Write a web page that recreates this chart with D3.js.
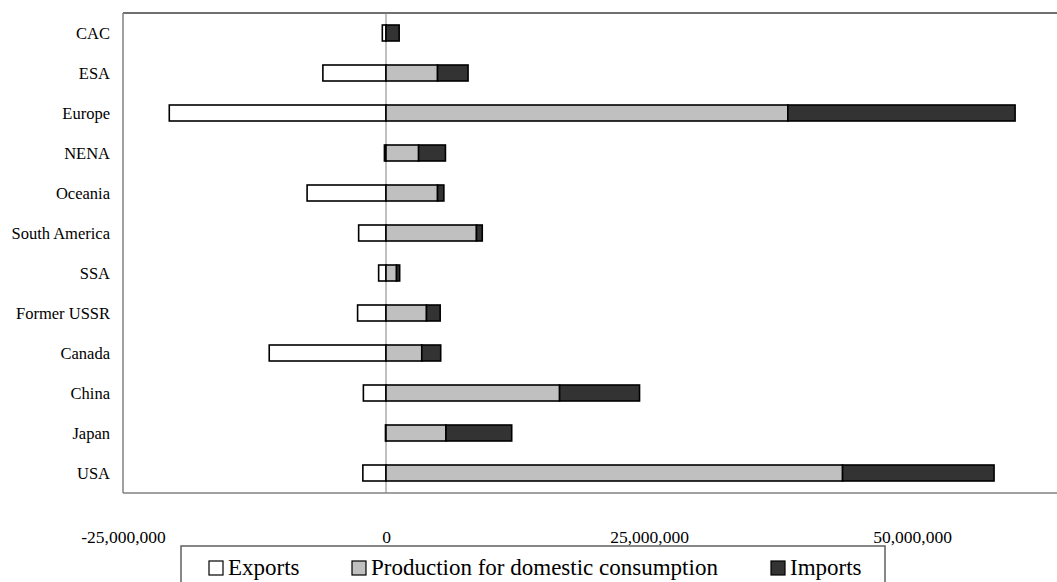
<!DOCTYPE html>
<html>
<head>
<meta charset="utf-8">
<script src="https://cdn.jsdelivr.net/npm/d3@7"></script>
<style>
  html, body { margin: 0; padding: 0; background: #fff; }
  svg { display: block; }
</style>
</head>
<body>
<svg id="chart" width="1057" height="582"></svg>
<script>
// Regions, top to bottom
const regions = ["CAC", "ESA", "Europe", "NENA", "Oceania", "South America", "SSA",
                 "Former USSR", "Canada", "China", "Japan", "USA"];

// Volumes (tonnes); exports are shown to the left of zero
const exportsVals    = [-350000, -6000000, -20600000, -150000, -7500000, -2600000, -700000,
                        -2700000, -11100000, -2150000, -50000, -2200000];
const productionVals = [0, 4900000, 38200000, 3100000, 4900000, 8600000, 1000000,
                        3850000, 3400000, 16500000, 5700000, 43400000];
const importsVals    = [1250000, 2900000, 21600000, 2550000, 600000, 550000, 300000,
                        1300000, 1800000, 7600000, 6250000, 14400000];

const tickValues = [-25000000, 0, 25000000, 50000000];
const seriesNames = ["Exports", "Production for domestic consumption", "Imports"];
const seriesColors = ["#ffffff", "#c0c0c0", "#333333"];

const FONT = "'Liberation Serif', 'Times New Roman', 'DejaVu Serif', serif";

const svg = d3.select("#chart");

const plot = { left: 123, top: 13, bottom: 493, right: 1175 };

const x = d3.scaleLinear()
  .domain([-25000000, 75000000])
  .range([plot.left, plot.right]);

const y = d3.scaleBand()
  .domain(regions)
  .range([plot.top, plot.bottom])
  .paddingInner(0.6)
  .paddingOuter(0.3);

// Plot frame
svg.append("line")
  .attr("x1", plot.left).attr("x2", plot.right)
  .attr("y1", plot.top).attr("y2", plot.top)
  .attr("stroke", "#404040").attr("stroke-width", 1.6);
svg.append("line")
  .attr("x1", plot.left).attr("x2", plot.left)
  .attr("y1", plot.top).attr("y2", plot.bottom)
  .attr("stroke", "#808080").attr("stroke-width", 1.5);
svg.append("line")
  .attr("x1", plot.left).attr("x2", plot.right)
  .attr("y1", plot.bottom).attr("y2", plot.bottom)
  .attr("stroke", "#808080").attr("stroke-width", 1.5);

// Zero line
svg.append("line")
  .attr("x1", x(0)).attr("x2", x(0))
  .attr("y1", plot.top).attr("y2", plot.bottom)
  .attr("stroke", "#808080").attr("stroke-width", 1);

// Build segments: exports go left from zero, production then imports stack right
const segments = [];
regions.forEach((r, i) => {
  segments.push({ region: r, s: 0, x0: exportsVals[i], x1: 0 });
  segments.push({ region: r, s: 1, x0: 0, x1: productionVals[i] });
  segments.push({ region: r, s: 2, x0: productionVals[i], x1: productionVals[i] + importsVals[i] });
});

svg.append("g")
  .selectAll("rect")
  .data(segments.filter(d => d.x1 !== d.x0))
  .join("rect")
  .attr("x", d => x(Math.min(d.x0, d.x1)))
  .attr("width", d => Math.abs(x(d.x1) - x(d.x0)))
  .attr("y", d => y(d.region))
  .attr("height", y.bandwidth())
  .attr("fill", d => seriesColors[d.s])
  .attr("stroke", "#000")
  .attr("stroke-width", 1.6);

// Category labels
svg.append("g")
  .selectAll("text")
  .data(regions)
  .join("text")
  .attr("x", plot.left - 13)
  .attr("y", d => y(d) + y.bandwidth() / 2)
  .attr("dy", "0.35em")
  .attr("text-anchor", "end")
  .style("font-family", FONT)
  .style("font-size", "16.5px")
  .attr("fill", "#000")
  .text(d => d);

// Value axis labels (no tick marks); plain hyphen for negatives
const fmt = d3.format(",");
const xAxis = d3.axisBottom(x)
  .tickValues(tickValues)
  .tickFormat(d => fmt(d).replace("\u2212", "-"))
  .tickSize(0)
  .tickPadding(0);

const axisG = svg.append("g")
  .attr("transform", `translate(0, ${plot.bottom + 44})`)
  .call(xAxis);
axisG.select(".domain").remove();
axisG.selectAll("text")
  .style("font-family", FONT)
  .style("font-size", "17.5px")
  .attr("fill", "#000")
  .attr("dy", "0.35em")
  .attr("y", 0);

// Legend
const legend = svg.append("g");
legend.append("rect")
  .attr("x", 181).attr("y", 546)
  .attr("width", 704).attr("height", 60)
  .attr("fill", "#fff")
  .attr("stroke", "#606060").attr("stroke-width", 1.5);

const legendX = [209, 352, 771];
const items = legend.selectAll("g.item")
  .data(seriesNames)
  .join("g")
  .attr("class", "item")
  .attr("transform", (d, i) => `translate(${legendX[i]}, 561)`);
items.append("rect")
  .attr("width", 14).attr("height", 14)
  .attr("fill", (d, i) => seriesColors[i])
  .attr("stroke", "#000").attr("stroke-width", 1.2);
items.append("text")
  .attr("x", 19)
  .attr("y", 14)
  .style("font-family", FONT)
  .style("font-size", "23px")
  .attr("fill", "#000")
  .text(d => d);
</script>
</body>
</html>
